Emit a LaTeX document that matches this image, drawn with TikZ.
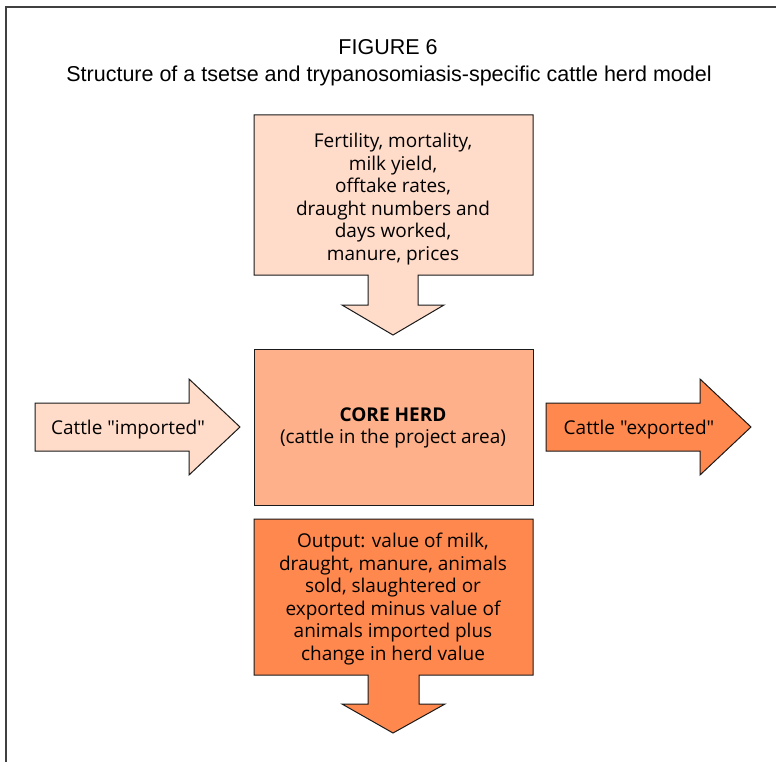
\documentclass[tikz,border=0pt]{standalone}
\usepackage{fontspec}
\setmainfont{Liberation Sans}
\newfontfamily\boxfont{Open Sans}
\definecolor{lightpeach}{HTML}{FFDBC9}
\definecolor{midpeach}{HTML}{FDB08A}
\definecolor{darkorange}{HTML}{FF884E}
\definecolor{edgecol}{HTML}{1A1A1A}
\begin{document}
\begin{tikzpicture}[x=1pt,y=-1pt,
  shapeline/.style={draw=edgecol,line width=1pt,line join=miter},
  boxtext/.style={font=\boxfont\fontsize{19}{22.6}\selectfont, align=center, text=black, inner sep=0pt},
  titletext/.style={font=\fontsize{21.5}{24}\selectfont, inner sep=0pt}]
\useasboundingbox (0,0) rectangle (776,762);
\fill[white] (0,0) rectangle (776,762);
\draw[line width=1.6pt, black!75] (6,762) -- (6,7) -- (776,7);
\node[titletext] (fig) at (388,47) {FIGURE 6};
\node[titletext] (title) at (389,76) {Structure of a tsetse and trypanosomiasis-specific cattle herd model};
% inputs box with arrow
\draw[shapeline, fill=lightpeach] (254,115) -- (533,115) -- (533,275) -- (418,275) -- (418,305) -- (444,305) -- (393,335) -- (342,305) -- (368,305) -- (368,275) -- (254,275) -- cycle;
\node[boxtext] (inputs) at (393,199) {Fertility, mortality,\\milk yield,\\offtake rates,\\draught numbers and\\days worked,\\manure, prices};
% core herd
\draw[shapeline, fill=midpeach] (254,349) rectangle (533,505);
\node[boxtext] (core) at (393,428) {\textbf{CORE HERD}\\(cattle in the project area)};
% output box with arrow
\draw[shapeline, fill=darkorange] (254,519) -- (533,519) -- (533,675) -- (419,675) -- (419,704) -- (445,704) -- (393,733) -- (342,704) -- (368,704) -- (368,675) -- (254,675) -- cycle;
\node[boxtext] (output) at (393,599) {Output: value of milk,\\draught, manure, animals\\sold, slaughtered or\\exported minus value of\\animals imported plus\\change in herd value};
% left arrow
\draw[shapeline, fill=lightpeach] (35,403) -- (189,403) -- (189,379) -- (240,427) -- (189,475) -- (189,451) -- (35,451) -- cycle;
\node[boxtext] (imported) at (128,430) {Cattle "imported"};
% right arrow
\draw[shapeline, fill=darkorange] (546,403) -- (700,403) -- (700,379) -- (751,427) -- (700,475) -- (700,451) -- (546,451) -- cycle;
\node[boxtext] (exported) at (639,430) {Cattle "exported"};
\end{tikzpicture}
\end{document}
